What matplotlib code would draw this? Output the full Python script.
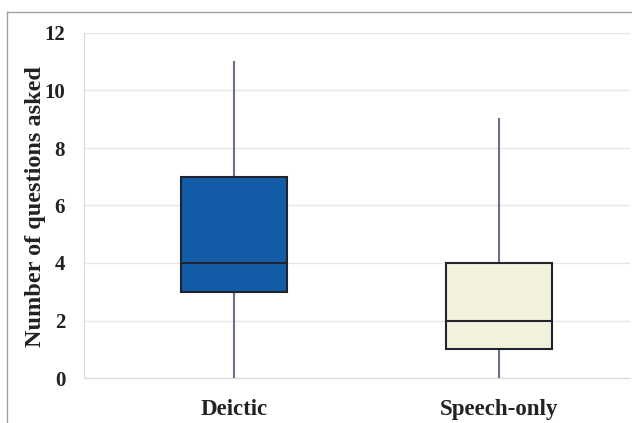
import matplotlib
matplotlib.use("Agg")
import matplotlib.pyplot as plt
from matplotlib.lines import Line2D

categories = ["Deictic", "Speech-only"]
whislo = [0, 0]
q1 = [3, 1]
med = [4, 2]
q3 = [7, 4]
whishi = [11, 9]
colors = ["#125ca8", "#f2f1dc"]
yticks = [0, 2, 4, 6, 8, 10, 12]

plt.rcParams['font.family'] = ['Liberation Serif', 'DejaVu Serif']
plt.rcParams['font.weight'] = 'bold'

fig = plt.figure(figsize=(6.32, 4.23), dpi=100)
ax = fig.add_axes([84/632, 1-378/423, 546/632, 345/423])

stats = []
for i, c in enumerate(categories):
    stats.append(dict(label=c, whislo=whislo[i], q1=q1[i], med=med[i], q3=q3[i], whishi=whishi[i], fliers=[]))

bp = ax.bxp(stats, positions=[1, 2], widths=0.4, patch_artist=True, showcaps=False,
            boxprops=dict(edgecolor="#23232f", linewidth=1.5),
            medianprops=dict(color="#23232f", linewidth=1.5),
            whiskerprops=dict(color="#6e6e8e", linewidth=1.5))
for patch, col in zip(bp['boxes'], colors):
    patch.set_facecolor(col)
for w in bp['whiskers']:
    w.set_zorder(1)

ax.set_xlim(0.434, 2.494)
ax.set_ylim(0, 12)
ax.set_yticks(yticks)
ax.set_yticklabels([str(t) for t in yticks], fontsize=15, fontweight='bold', color='#222222')
ax.set_xticks([1, 2])
ax.set_xticklabels(categories, fontsize=16.5, fontweight='bold', color='#222222')
ax.tick_params(axis='y', length=0, pad=13.5)
ax.tick_params(axis='x', length=0, pad=15)
ax.grid(axis='y', color='#e6e6e6', linewidth=1)
ax.set_axisbelow(True)
for s in ['top', 'right']:
    ax.spines[s].set_visible(False)
ax.spines['left'].set_color('#d9d9d9')
ax.spines['bottom'].set_color('#d9d9d9')
ax.set_ylabel("Number of questions asked", fontsize=17.5, fontweight='bold', color='#222222')
ax.yaxis.set_label_coords(-(84 - 36) / 546, 0.497)
ax.yaxis.label.set_va('center')

# outer frame lines
fig.add_artist(Line2D([7/632, 1], [1-12/423, 1-12/423], color='#a0a0a0', linewidth=1, transform=fig.transFigure))
fig.add_artist(Line2D([7/632, 7/632], [0, 1-12/423], color='#a0a0a0', linewidth=1, transform=fig.transFigure))

fig.savefig("out.png", dpi=100)
